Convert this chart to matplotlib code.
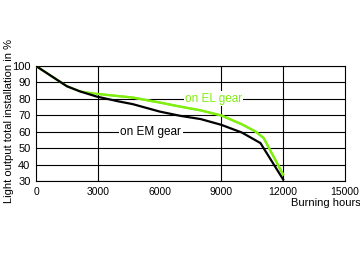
import matplotlib
matplotlib.use("Agg")
import matplotlib.pyplot as plt

plt.rcParams["font.family"] = ["Liberation Sans", "DejaVu Sans"]

hours_em = [0, 1500, 2150, 2950, 4000, 4700, 6000, 7000, 8000, 9000, 10000, 10900, 12000]
light_em = [100, 87.7, 84.5, 81.4, 78.5, 76.8, 72.3, 69.7, 67.7, 64.2, 59.5, 53.1, 31]

hours_el = [0, 1500, 2150, 3000, 4700, 6000, 7000, 8000, 9000, 10000, 10650, 11050, 12000]
light_el = [100, 87.7, 84.5, 83, 80.8, 77.8, 75.3, 73, 69.9, 64.5, 60.2, 56.3, 34]

x_ticks = [0, 3000, 6000, 9000, 12000, 15000]
x_grid = [3000, 9000, 12000]
y_ticks = [30, 40, 50, 60, 70, 80, 90, 100]

C_EM = "#000000"
C_EL = "#80ee10"

fig = plt.figure(figsize=(3.6, 2.62), dpi=100)
ax = fig.add_axes([0.1, 0.309, 0.858, 0.439])

for y in y_ticks:
    ax.axhline(y, color="black", linewidth=0.8, zorder=1)
for x in x_grid:
    ax.axvline(x, color="black", linewidth=0.8, zorder=1)

ax.plot(hours_el, light_el, color=C_EL, linewidth=1.6, zorder=3)
ax.plot(hours_em, light_em, color=C_EM, linewidth=1.6, zorder=4)
# redraw the green tail on top where it separates from the black curve
ax.plot(hours_el[3:], light_el[3:], color=C_EL, linewidth=1.6, zorder=5)

ax.text(5580, 60, "on EM gear", fontsize=8.5, color="black", ha="center", va="center",
        bbox=dict(facecolor="white", edgecolor="none", pad=1.0), zorder=6)
ax.text(8620, 80, "on EL gear", fontsize=8.5, color=C_EL, ha="center", va="center",
        bbox=dict(facecolor="white", edgecolor="none", pad=1.0), zorder=6)

ax.set_xlim(0, 15000)
ax.set_ylim(30, 100)
ax.set_xticks(x_ticks)
ax.set_yticks(y_ticks)
ax.tick_params(length=0, pad=4)
ax.tick_params(axis="x", labelsize=7.5)
ax.tick_params(axis="y", labelsize=8)
for s in ax.spines.values():
    s.set_linewidth(0.8)

fig.text(0.024, 0.54, "Light output total installation in %", fontsize=8,
         rotation=90, ha="center", va="center")
fig.text(1.002, 0.225, "Burning hours", fontsize=8, ha="right", va="center")

fig.savefig("out.png", dpi=100, facecolor="white")
